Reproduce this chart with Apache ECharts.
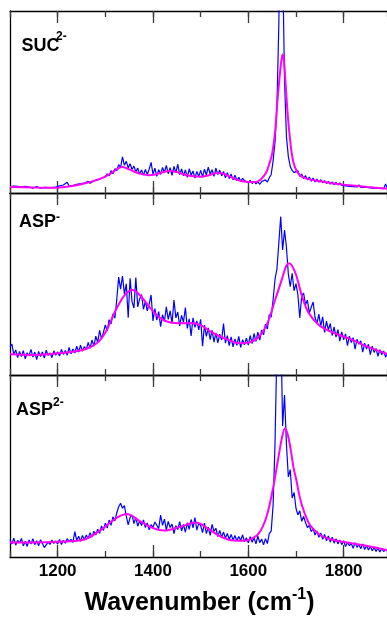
<!DOCTYPE html>
<html><head><meta charset="utf-8">
<script src="https://cdn.jsdelivr.net/npm/echarts@6/dist/echarts.min.js"></script>
<style>html,body{margin:0;padding:0;background:#fff}#c{width:387px;height:617px}</style>
</head><body><div id="c"></div>
<script>
// ---- data ----
const wnStart = 1100, wnStep = 4;            // sampling grid of the measured spectra (cm-1)
const xMin = 1100, xMax = 1891;
const majorTicks = [1200, 1400, 1600, 1800];
const panelNames = ['SUC', 'ASP', 'ASP'];
const panelCharges = ['2-', '-', '2-'];
const axisTitle = 'Wavenumber (cm';
const axisTitleSup = '-1';

const sucBlue = [
3.5,3.0,3.8,3.2,3.6,2.9,3.4,3.1,3.7,2.8,3.3,3.6,2.7,3.2,3.5,3.0,2.6,3.4,3.1,3.6,2.9,3.3,3.0,3.5,3.2,
3.4,3.9,3.2,4.4,3.7,5.9,3.8,4.5,4.1,3.9,4.8,4.3,5.2,4.6,5.5,4.9,6.4,5.3,5.8,6.6,5.9,7.2,6.4,8.1,7.4,
8.8,10.5,9.4,12.3,10.6,13.4,12.2,15.6,14.0,19.8,15.2,17.4,13.8,16.1,12.9,14.8,11.6,13.7,10.4,12.6,9.8,12.9,10.2,13.1,16.8,
10.4,13.6,9.1,12.8,10.2,14.1,11.3,15.2,10.6,13.9,9.7,14.6,11.2,15.8,10.1,13.2,9.4,12.7,8.6,13.3,9.8,12.1,8.2,11.9,9.0,
12.4,8.7,13.1,9.9,14.2,10.4,12.8,9.2,13.7,10.1,12.6,9.4,11.8,8.3,11.2,7.9,10.4,7.2,9.8,6.9,8.6,6.4,8.1,6.8,7.6,
5.6,7.0,5.2,6.4,5.0,6.1,4.8,6.3,5.4,7.2,6.0,8.4,10.2,17.5,28,47,92,170,128,62,31,20,14.5,12.4,11.2,
10.6,12.3,9.1,10.4,7.8,9.6,7.2,8.8,6.5,8.2,6.1,7.6,5.9,7.3,5.6,6.8,5.2,6.4,4.9,6.1,4.6,5.8,4.4,5.5,4.2,
5.1,3.9,4.8,3.6,4.6,3.5,4.3,3.3,4.5,3.1,4.0,3.2,3.8,2.9,3.6,2.7,3.5,2.6,3.3,2.5,3.1,2.4,5.0,2.6];
const sucFitWn = [1100,1150,1200,1230,1260,1290,1310,1325,1335,1345,1360,1375,1390,1405,1420,1435,1450,1465,1480,1500,1515,1530,1540,1555,1570,1585,1600,1615,1625,1632,1638,1644,1650,1656,1661,1665,1669,1672,1675,1678,1681,1684,1687,1691,1695,1700,1708,1722,1750,1775,1800,1850,1892];
const sucFit = [3.3,3.0,2.9,3.8,5.5,7.9,10.5,13.2,14.3,13.6,11.8,10.5,9.8,10.2,11.4,12.1,11.5,10.2,9.3,8.9,9.6,10.8,11.0,9.8,7.9,6.6,6.1,6.0,7.2,9.2,11.5,16,21.5,33,50,62,72,76.2,72,61,49,39,31,22,16.5,13,9.8,7.9,6.4,5.4,4.6,3.3,2.4];

const aspBlue = [
15.5,17.0,11.2,13.8,9.6,12.9,10.1,13.4,8.9,12.2,10.5,14.1,9.8,12.6,8.4,13.0,10.2,12.7,9.3,13.6,10.8,12.1,9.5,13.3,10.9,
12.8,10.4,14.1,11.2,13.5,10.9,15.2,11.7,14.3,12.1,15.8,12.6,16.4,13.1,15.6,13.8,17.9,14.6,19.2,15.9,21.4,17.8,24.6,19.7,23.4,
27.5,24.2,30.4,28.1,33.6,31.2,41.5,53.8,47.2,54.4,44.6,50.1,31.5,53.2,40.3,36.8,53.5,37.4,41.8,44.2,36.1,40.6,35.2,38.9,44.0,
29.7,36.5,30.2,34.8,26.5,33.1,29.4,37.4,30.6,35.2,28.3,41.2,31.4,34.6,27.0,32.8,29.1,37.0,25.6,30.9,21.5,31.4,26.2,29.7,24.8,
30.6,15.8,27.4,21.2,25.9,19.4,24.6,18.1,23.2,17.6,22.4,19.2,28.3,17.5,21.6,16.2,20.9,15.4,19.8,16.3,21.2,15.1,19.4,16.6,20.3,
16.4,21.7,17.2,22.8,18.5,23.6,19.2,24.8,22.1,27.9,25.3,33.2,31.8,41.2,52.5,58.1,72.4,87.0,68.7,79.7,70.2,55.4,48.5,55.9,46.3,
50.2,44.1,31.3,43.5,45.0,38.6,41.2,34.0,37.2,40.1,31.6,28.2,33.4,26.8,31.9,23.4,29.6,24.8,28.3,21.7,26.4,20.8,24.9,18.6,23.7,
19.4,22.6,16.1,21.3,17.8,20.5,14.2,19.6,16.9,18.8,12.6,17.5,14.3,16.9,11.2,15.8,12.4,14.6,10.3,13.9,11.1,13.2,9.8,12.0];
const aspFitWn = [1100,1150,1200,1252,1282,1301,1322,1341,1357,1374,1395,1416,1437,1458,1479,1501,1521,1542,1562,1580,1601,1622,1640,1654,1671,1680,1686,1699,1713,1727,1748,1773,1801,1827,1843,1892];
const aspFit = [11.4,11.0,11.9,13.7,17.4,23.8,35.7,44,46.7,43.4,36.6,31.1,28.8,28.4,28.6,27.3,23.8,21,18.9,17.4,17.8,21,28.4,39.4,53.1,60.2,61.4,55.9,43,33.9,27.5,23.8,21,18.3,16.3,11.5];

const asp2Blue = [
9.6,7.2,10.4,6.5,9.1,7.8,10.2,6.1,8.7,5.8,9.4,7.1,10.1,6.8,8.9,6.2,9.5,7.4,5.2,4.6,8.2,6.9,9.3,7.5,8.8,
7.1,9.6,6.8,9.2,7.6,10.1,8.3,9.7,8.0,13.9,9.2,11.4,8.7,11.8,9.5,12.1,10.2,13.4,10.9,14.2,12.1,15.3,13.0,17.1,14.6,
18.6,15.9,20.3,17.4,22.1,19.8,24.2,27.6,29.5,26.8,28.2,22.4,17.6,21.8,23.1,18.4,21.6,16.9,19.8,17.3,20.4,16.2,18.7,14.9,17.8,
16.3,19.2,20.1,15.6,23.0,17.4,20.8,14.9,19.6,16.2,18.1,12.9,17.2,15.1,19.4,14.3,17.9,13.6,18.8,15.2,20.6,16.0,21.7,14.8,18.5,
17.2,13.4,18.6,12.8,16.4,11.9,17.9,14.1,15.8,11.2,14.6,10.8,13.7,10.4,12.9,9.6,12.4,9.3,11.8,8.9,11.3,9.1,12.2,8.4,10.6,
7.8,11.2,8.1,10.6,7.2,11.4,7.9,9.8,6.7,10.1,7.4,12.8,14.2,28.5,62,115,160,130,72,89,62,44,48,32.4,35.5,
26.8,23.1,25.4,19.6,22.3,18.9,16.2,17.4,13.9,15.6,12.1,14.3,10.8,13.2,9.7,12.4,8.9,11.6,8.2,10.9,7.6,10.1,7.2,9.4,6.8,
8.9,5.7,8.1,6.2,7.4,4.8,7.9,5.3,6.8,4.5,7.2,4.1,6.3,3.9,5.8,3.4,5.2,3.1,4.9,2.8,4.6,3.0,4.2,3.3];
const asp2FitWn = [1100,1150,1200,1252,1290,1322,1345,1374,1401,1423,1458,1490,1514,1542,1570,1590,1605,1622,1638,1652,1664,1671,1677,1683,1689,1695,1701,1707,1713,1722,1731,1752,1775,1801,1850,1892];
const asp2Fit = [7.9,8.0,8.4,9.3,14.8,21.2,23.6,19.4,15.8,14.5,16.7,18.9,15.8,11.2,9,8.9,9.8,13,22,38,56,66,70.8,67,59,49,42,34,28,21.5,17,11.8,9.6,8.2,6,3.8];

// ---- build ----
const FONT = '"Liberation Sans", Arial, Helvetica, sans-serif';
const blues = [sucBlue, aspBlue, asp2Blue];
const fits = [[sucFitWn, sucFit], [aspFitWn, aspFit], [asp2FitWn, asp2Fit]];
const gridTops = [11, 193, 375];
const gridH = 182;

const grid = gridTops.map(t => ({left: 10, right: 0, top: t, height: gridH}));
const xAxis = [];
const yAxis = [];
const series = [];
const axLine = {color: '#000', width: 1.3};
const tickLine = {color: '#3a3a3a', width: 1.3};

function mkX(g, pos, major, labels) {
  const a = {
    type: 'value', gridIndex: g, position: pos, min: xMin, max: xMax, interval: 100,
    axisLine: {show: !major, lineStyle: axLine, onZero: false},
    axisTick: {show: true, inside: true, length: major ? 12 : 6, lineStyle: tickLine},
    axisLabel: {show: false},
    splitLine: {show: false}
  };
  if (major) a.axisTick.customValues = majorTicks;
  if (labels) {
    a.axisLabel = {show: true, customValues: majorTicks, color: '#000', fontSize: 17,
      fontWeight: 'bold', fontFamily: FONT, margin: 6, formatter: v => String(v)};
  }
  return a;
}

for (let g = 0; g < 3; g++) {
  xAxis.push(mkX(g, 'bottom', false, false));
  xAxis.push(mkX(g, 'bottom', true, g === 2));
  xAxis.push(mkX(g, 'top', false, false));
  xAxis.push(mkX(g, 'top', true, false));
  yAxis.push({type: 'value', gridIndex: g, min: 0, max: 100,
    axisLine: {show: true, lineStyle: axLine, onZero: false},
    axisTick: {show: false}, axisLabel: {show: false}, splitLine: {show: false}});
  const blueData = blues[g].map((v, i) => [wnStart + wnStep * i, v]);
  series.push({type: 'line', xAxisIndex: 4 * g, yAxisIndex: g, data: blueData,
    showSymbol: false, symbol: 'none', clip: true,
    lineStyle: {color: '#0000ff', width: 1.2}, z: 2});
  const fitData = fits[g][0].map((w, i) => [w, fits[g][1][i]]);
  series.push({type: 'line', xAxisIndex: 4 * g, yAxisIndex: g, data: fitData,
    showSymbol: false, symbol: 'none', smooth: 0.35, clip: true,
    lineStyle: {color: '#ff00ff', width: 2}, z: 3});
}

const labelPos = [
  {x: 21.5, y: 46.5, sx: 56, sy: 36.5},
  {x: 19, y: 222.3, sx: 56, sy: 217.3},
  {x: 16, y: 410.3, sx: 53, sy: 403}
];
const graphic = [];
labelPos.forEach((p, i) => {
  graphic.push({type: 'text', x: p.x, y: p.y, silent: true,
    style: {text: panelNames[i], fill: '#000', fontSize: 18, fontWeight: 'bold', fontFamily: FONT,
      align: 'left', verticalAlign: 'middle'}});
  graphic.push({type: 'text', x: p.sx, y: p.sy, silent: true,
    style: {text: panelCharges[i], fill: '#000', fontSize: 12, fontWeight: 'bold', fontFamily: FONT,
      align: 'left', verticalAlign: 'middle'}});
});
graphic.push({type: 'text', x: 199.5, y: 603.5, silent: true,
  style: {text: '{a|' + axisTitle + '}{b|' + axisTitleSup + '}{a|)}',
    align: 'center', verticalAlign: 'middle', fill: '#000',
    rich: {
      a: {fontSize: 25, fontWeight: 'bold', fontFamily: FONT, lineHeight: 34, fill: '#000'},
      b: {fontSize: 16, fontWeight: 'bold', fontFamily: FONT, lineHeight: 14, verticalAlign: 'top', fill: '#000'}
    }}});

const chart = echarts.init(document.getElementById('c'), null, {renderer: 'canvas'});
chart.setOption({
  animation: false,
  backgroundColor: '#fff',
  grid, xAxis, yAxis, series, graphic
});
</script></body></html>
